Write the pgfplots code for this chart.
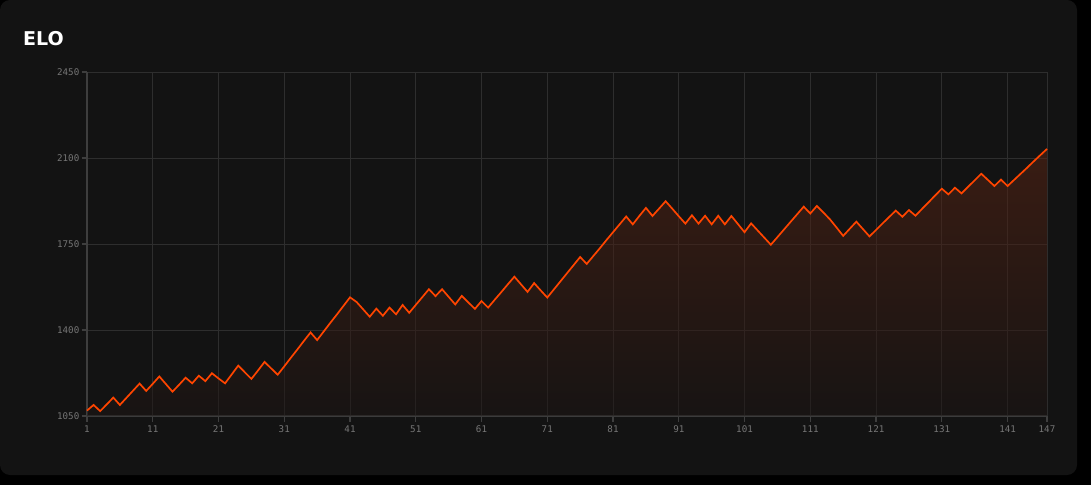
\documentclass[border=0pt]{standalone}
\usepackage{pgfplots}
\usepackage{pgfplotstable}
\pgfplotsset{compat=1.18}
\usepackage{fontspec}
\newfontfamily\monof{DejaVu Sans Mono}
\newfontfamily\titlef{DejaVu Sans}
\definecolor{cardbg}{HTML}{131313}
\definecolor{gridgray}{HTML}{2E2E2E}
\definecolor{axisgray}{HTML}{3E3E3E}
\definecolor{ticktext}{HTML}{767676}
\definecolor{elo}{HTML}{FF4500}
\definecolor{filltop}{HTML}{602614}
\definecolor{fillbot}{HTML}{1C1513}
\pgfplotstableread{
g elo
1 1072
2 1095
3 1070
4 1097
5 1125
6 1095
7 1124
8 1153
9 1182
10 1152
11 1181
12 1211
13 1180
14 1149
15 1177
16 1206
17 1183
18 1214
19 1192
20 1224
21 1203
22 1183
23 1219
24 1255
25 1228
26 1201
27 1235
28 1270
29 1244
30 1218
31 1252
32 1287
33 1321
34 1356
35 1390
36 1359
37 1394
38 1429
39 1463
40 1498
41 1533
42 1514
43 1484
44 1454
45 1487
46 1458
47 1491
48 1464
49 1502
50 1470
51 1502
52 1534
53 1566
54 1538
55 1566
56 1535
57 1504
58 1539
59 1512
60 1486
61 1518
62 1491
63 1523
64 1554
65 1586
66 1617
67 1586
68 1555
69 1591
70 1561
71 1532
72 1565
73 1598
74 1631
75 1664
76 1697
77 1669
78 1701
79 1733
80 1766
81 1798
82 1830
83 1862
84 1830
85 1864
86 1897
87 1864
88 1894
89 1924
90 1894
91 1863
92 1833
93 1867
94 1833
95 1865
96 1830
97 1865
98 1830
99 1864
100 1831
101 1798
102 1834
103 1805
104 1776
105 1747
106 1778
107 1809
108 1840
109 1871
110 1902
111 1874
112 1905
113 1878
114 1850
115 1817
116 1783
117 1812
118 1841
119 1811
120 1781
121 1807
122 1834
123 1860
124 1886
125 1861
126 1888
127 1865
128 1893
129 1920
130 1948
131 1975
132 1952
133 1979
134 1956
135 1983
136 2009
137 2036
138 2011
139 1986
140 2012
141 1986
142 2011
143 2036
144 2061
145 2087
146 2112
147 2137
}\elodata
\begin{document}
\begin{tikzpicture}
\fill[black] (0pt,0pt) rectangle (1091pt,485pt);
\fill[cardbg, rounded corners=10pt] (0pt,10pt) rectangle (1077pt,485pt);
\node[anchor=base west, text=white, inner sep=0pt, font=\titlef\bfseries\fontsize{19}{23}\selectfont] at (23pt,439pt) {ELO};
\begin{axis}[
  at={(87pt,69pt)}, anchor=south west,
  scale only axis, width=960pt, height=344pt,
  xmin=1, xmax=147, ymin=1050, ymax=2450,
  xtick={1,11,21,31,41,51,61,71,81,91,101,111,121,131,141,147},
  ytick={1050,1400,1750,2100,2450},
  axis lines=left,
  axis line style={draw=axisgray, line width=1.6pt, -},
  grid=major,
  major grid style={draw=gridgray, line width=0.9pt},
  tick align=outside,
  major tick length=5.5pt,
  tick style={draw=axisgray, line width=1.2pt},
  /pgf/number format/1000 sep={},
  /pgf/number format/assume math mode=true,
  ticklabel style={font=\monof\fontsize{9.2}{11}\selectfont, text=ticktext},
  yticklabel style={inner sep=2pt},
  xticklabel style={inner sep=2pt, yshift=-2pt},
  clip=false,
]
\addplot[draw=none, fill opacity=0.5, top color=filltop, bottom color=fillbot] table[x=g, y=elo] {\elodata} \closedcycle;
\addplot[elo, line width=1.7pt, line join=miter, mark=none] table[x=g, y=elo] {\elodata};
\end{axis}
\end{tikzpicture}
\end{document}
